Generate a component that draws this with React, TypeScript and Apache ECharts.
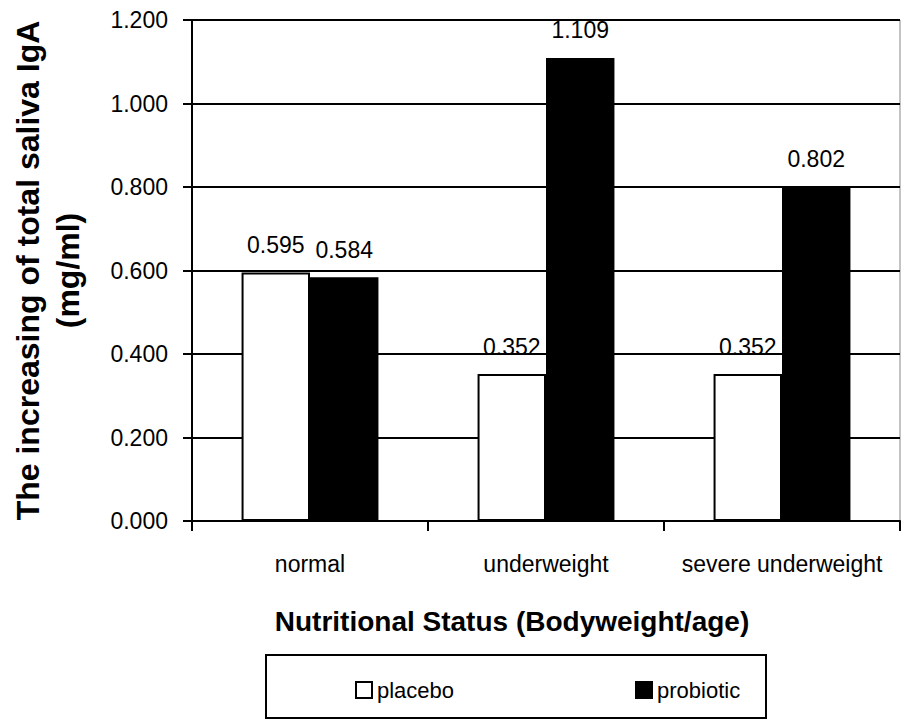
import React, { useEffect, useRef } from "react";
import * as echarts from "echarts";

const categories = ["normal", "underweight", "severe underweight"];
const placebo = [0.595, 0.352, 0.352];
const probiotic = [0.584, 1.109, 0.802];
const yTicks = { min: 0, max: 1.2, interval: 0.2 };

const FONT = "'Liberation Sans', Arial, sans-serif";

export default function App() {
  const ref = useRef<HTMLDivElement>(null);
  useEffect(() => {
    const chart = echarts.init(ref.current!, null, { renderer: "svg" });
    const label = {
      show: true,
      position: "top",
      distance: 16,
      color: "#000",
      fontFamily: FONT,
      fontSize: 23,
      formatter: (p: any) => p.value.toFixed(3),
    };
    chart.setOption({
      animation: false,
      backgroundColor: "#fff",
      grid: {
        left: 192,
        right: 6,
        top: 20,
        bottom: 199,
        show: true,
        borderColor: "#888",
        borderWidth: 1,
      },
      xAxis: {
        type: "category",
        data: categories,
        name: "Nutritional Status (Bodyweight/age)",
        nameLocation: "middle",
        nameGap: 86,
        nameTextStyle: {
          fontFamily: FONT,
          fontSize: 28,
          fontWeight: "bold",
          color: "#000",
          padding: [0, 68, 0, 0],
        },
        axisLine: { lineStyle: { color: "#000", width: 2 } },
        axisTick: { show: true, length: 10, lineStyle: { color: "#000", width: 2 } },
        axisLabel: { color: "#000", fontFamily: FONT, fontSize: 23, margin: 31, interval: 0 },
        splitLine: { show: false },
      },
      yAxis: {
        type: "value",
        min: yTicks.min,
        max: yTicks.max,
        interval: yTicks.interval,
        name: "The increasing of total saliva IgA\n(mg/ml)",
        nameLocation: "middle",
        nameGap: 104,
        nameTextStyle: {
          fontFamily: FONT,
          fontSize: 32,
          fontWeight: "bold",
          color: "#000",
          lineHeight: 40,
          align: "center",
        },
        axisLine: { show: true, lineStyle: { color: "#000", width: 2 } },
        axisTick: { show: true, length: 9, lineStyle: { color: "#000", width: 2 } },
        axisLabel: {
          color: "#000",
          fontFamily: FONT,
          fontSize: 23,
          margin: 24,
          formatter: (v: number) => v.toFixed(3),
        },
        splitLine: { show: true, lineStyle: { color: "#000", width: 2 } },
      },
      legend: [
        {
          data: [{ name: "placebo", itemStyle: { color: "#fff", borderColor: "#000", borderWidth: 2 } }],
          icon: "rect",
          left: 350,
          top: 674,
          itemWidth: 16,
          itemHeight: 16,
          itemGap: 6,
          textStyle: { color: "#000", fontFamily: FONT, fontSize: 22 },
        },
        {
          data: [{ name: "probiotic", itemStyle: { color: "#000", borderColor: "#000", borderWidth: 2 } }],
          icon: "rect",
          left: 630,
          top: 674,
          itemWidth: 16,
          itemHeight: 16,
          itemGap: 6,
          textStyle: { color: "#000", fontFamily: FONT, fontSize: 22 },
        },
      ],
      graphic: [
        {
          type: "rect",
          shape: { x: 266, y: 655, width: 500, height: 63 },
          style: { fill: "none", stroke: "#000", lineWidth: 2 },
        },
      ],
      series: [
        {
          name: "placebo",
          type: "bar",
          data: placebo,
          barGap: "0%",
          barCategoryGap: "42%",
          itemStyle: { color: "#fff", borderColor: "#000", borderWidth: 2 },
          label,
        },
        {
          name: "probiotic",
          type: "bar",
          data: probiotic,
          barGap: "0%",
          barCategoryGap: "42%",
          itemStyle: { color: "#000", borderColor: "#000", borderWidth: 2 },
          label,
        },
      ],
    });
    return () => chart.dispose();
  }, []);
  return <div ref={ref} style={{ width: 906, height: 720, position: "absolute", left: 0, top: 0 }} />;
}
